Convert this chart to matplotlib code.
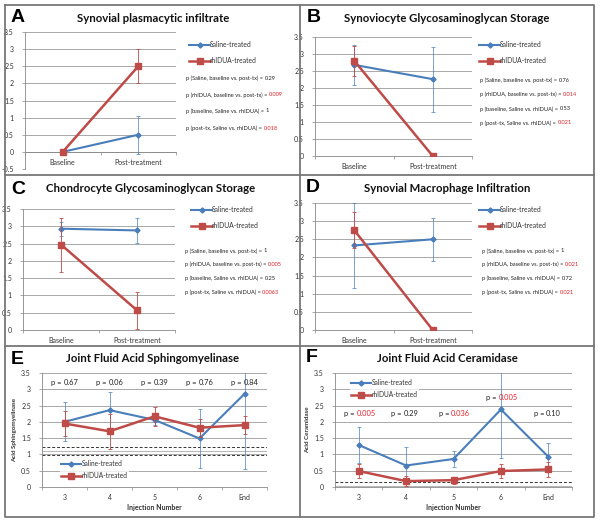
import numpy as np
import matplotlib
matplotlib.use('Agg')
import matplotlib.pyplot as plt
from matplotlib.lines import Line2D
from matplotlib.text import Annotation

plt.rcParams['font.family'] = ['Lato', 'DejaVu Sans']

W, H = 600, 523
blue = '#4a7ebb'
red = '#be4b48'

groups = ['Baseline', 'Post-treatment']
injections = ['3', '4', '5', '6', 'End']

# A - synovial plasmacytic infiltrate
a_saline = [0, 0.5]
a_saline_err = [0, 0.56]
a_rhidua = [0, 2.5]
a_rhidua_err = [0, 0.5]
a_p = [('0.29', False), ('0.009', True), ('1', False), ('0.018', True)]

# B - synoviocyte GAG storage
b_saline = [2.68, 2.26]
b_saline_err = [0.58, 0.96]
b_rhidua = [2.8, 0]
b_rhidua_err = [0.45, 0]
b_p = [('0.76', False), ('0.014', True), ('0.53', False), ('0.021', True)]

# C - chondrocyte GAG storage
c_saline = [2.93, 2.88]
c_saline_err = [0.2, 0.37]
c_rhidua = [2.47, 0.57]
c_rhidua_err = [0.78, 0.54]
c_p = [('1', False), ('0.005', True), ('0.25', False), ('0.0063', True)]

# D - synovial macrophage infiltration
d_saline = [2.33, 2.5]
d_saline_err = [1.16, 0.59]
d_rhidua = [2.75, 0]
d_rhidua_err = [0.5, 0]
d_p = [('1', False), ('0.021', True), ('0.72', False), ('0.021', True)]

# E - joint fluid acid sphingomyelinase
e_saline = [2.0, 2.36, 2.06, 1.49, 2.86]
e_saline_err = [0.6, 0.55, 0.15, 0.9, 2.32]
e_rhidua = [1.95, 1.71, 2.17, 1.82, 1.9]
e_rhidua_err = [0.37, 0.53, 0.3, 0.27, 0.27]
e_p = [('0.67', False), ('0.06', False), ('0.39', False), ('0.76', False), ('0.84', False)]
e_p_y = [3.2, 3.2, 3.2, 3.2, 3.2]
e_ref = [1.24, 0.97]
e_ref_gray = 1.11

# F - joint fluid acid ceramidase
f_saline = [1.29, 0.66, 0.86, 2.38, 0.93]
f_saline_err = [0.56, 0.58, 0.24, 1.5, 0.43]
f_rhidua = [0.49, 0.18, 0.21, 0.49, 0.54]
f_rhidua_err = [0.22, 0.15, 0.11, 0.21, 0.24]
f_p = [('0.005', True), ('0.29', False), ('0.036', True), ('0.005', True), ('0.10', False)]
f_p_y = [2.25, 2.25, 2.25, 2.75, 2.25]
f_ref = [0.15]
f_ref_gray = 0.03

fig = plt.figure(figsize=(6, 5.23), dpi=100)


def px_axes(x0, y0, x1, y1):
    return fig.add_axes([x0 / W, 1 - y1 / H, (x1 - x0) / W, (y1 - y0) / H])


def fx(x):
    return x / W


def fy(y):
    return 1 - y / H


def draw_panel(ax, cats, s, s_err, r, r_err, ylim, xaxis_at=None):
    n = len(cats)
    x = np.arange(n)
    ax.set_xlim(-0.5, n - 0.5)
    ax.set_ylim(*ylim)
    ax.errorbar(x, s, yerr=s_err, color=blue, lw=1.5, marker='D', ms=2.6,
                elinewidth=0.5, capsize=1.3, capthick=0.5, zorder=3)
    ax.errorbar(x, r, yerr=r_err, color=red, lw=1.8, marker='s', ms=4.5,
                elinewidth=0.6, capsize=1.3, capthick=0.6, zorder=4)
    ticks = np.arange(ylim[0], ylim[1] + 0.01, 0.5)
    ax.set_yticks(ticks)
    ax.set_yticklabels([f'{v:g}' for v in ticks])
    ax.yaxis.grid(True, color='#9a9a9a', lw=0.6)
    ax.set_axisbelow(True)
    ax.set_xticks(x)
    ax.set_xticklabels(cats)
    ax.set_xticks(np.arange(-0.5, n), minor=True)
    ax.tick_params(axis='x', which='major', length=0, labelsize=5, pad=5, labelcolor='#333')
    ax.tick_params(axis='x', which='minor', length=2, width=0.5, color='#888')
    ax.tick_params(axis='y', length=2, width=0.5, color='#888', labelsize=5, labelcolor='#333', pad=6)
    for sp in ['top', 'right']:
        ax.spines[sp].set_visible(False)
    for sp in ['left', 'bottom']:
        ax.spines[sp].set_color('#888')
        ax.spines[sp].set_linewidth(0.6)
    if xaxis_at is not None:
        ax.spines['bottom'].set_position(('data', xaxis_at))


def p_line(x, y, value, is_red, prefix, size=4.1):
    t = fig.text(fx(x), fy(y), prefix, fontsize=size, ha='left', va='center', color='#222')
    fig.add_artist(Annotation(value, xy=(1, 0.5), xycoords=t, va='center', ha='left',
                              fontsize=size, color='#e0202a' if is_red else '#222'))


def legend(x, y, size, spacing, frame=False):
    h = [Line2D([], [], color=blue, lw=1.5, marker='D', ms=2.6),
         Line2D([], [], color=red, lw=1.8, marker='s', ms=4.5)]
    lg = fig.legend(h, ['Saline-treated', 'rhIDUA-treated'], loc='upper left',
                    bbox_to_anchor=(fx(x), fy(y)), fontsize=size, handlelength=3.0,
                    handletextpad=0.0, labelspacing=spacing, borderpad=0.2,
                    frameon=frame, borderaxespad=0)
    if frame:
        lg.get_frame().set_facecolor('white')
        lg.get_frame().set_edgecolor('none')
        lg.get_frame().set_boxstyle('square', pad=0)
    for txt in lg.get_texts():
        txt.set_color('#333')


prefixes = ['p (Saline, baseline vs. post-tx) = ', 'p (rhIDUA, baseline vs. post-tx) = ',
            'p (baseline, Saline vs. rhIDUA) = ', 'p (post-tx, Saline vs. rhIDUA) = ']

# panel A
ax = px_axes(25, 32, 176, 169)
draw_panel(ax, groups, a_saline, a_saline_err, a_rhidua, a_rhidua_err, (-0.5, 3.5), xaxis_at=0)
legend(188, 40, 4.9, 1.3)
for (v, isr), pre, yy in zip(a_p, prefixes, [78, 95, 111, 128]):
    p_line(186, yy, v, isr, pre)

# panel B
ax = px_axes(315, 37, 472, 156)
draw_panel(ax, groups, b_saline, b_saline_err, b_rhidua, b_rhidua_err, (0, 3.5))
legend(478, 40, 4.9, 1.3)
for (v, isr), pre, yy in zip(b_p, prefixes, [80, 94, 109, 123]):
    p_line(480, yy, v, isr, pre)

# panel C
ax = px_axes(23, 209, 175, 330)
draw_panel(ax, groups, c_saline, c_saline_err, c_rhidua, c_rhidua_err, (0, 3.5))
legend(190, 205, 4.9, 1.3)
for (v, isr), pre, yy in zip(c_p, prefixes, [251, 264, 278, 292]):
    p_line(185, yy, v, isr, pre)

# panel D
ax = px_axes(315, 203, 472, 330)
draw_panel(ax, groups, d_saline, d_saline_err, d_rhidua, d_rhidua_err, (0, 3.5))
legend(478, 205, 4.9, 1.3)
for (v, isr), pre, yy in zip(d_p, prefixes, [251, 264, 278, 292]):
    p_line(482, yy, v, isr, pre)

# panel E
ax = px_axes(42, 373, 267, 487)
draw_panel(ax, injections, e_saline, e_saline_err, e_rhidua, e_rhidua_err, (0, 3.5))
for yv in e_ref:
    ax.axhline(yv, color='#333', lw=0.7, ls=(0, (3, 2)), zorder=2)
ax.axhline(e_ref_gray, color='#aaa', lw=0.6, zorder=2)
ax.set_ylabel('Acid Sphingomyelinase', fontsize=4.5, fontweight='bold', color='#333', labelpad=3)
ax.set_xlabel('Injection Number', fontsize=5, fontweight='bold', color='#333', labelpad=2)
for i, ((v, isr), yv) in enumerate(zip(e_p, e_p_y)):
    t = ax.text(i - 0.02, yv, 'p = ', fontsize=5.4, ha='right', va='center', color='#222')
    ax.annotate(v, xy=(1, 0.5), xycoords=t, va='center', ha='left', fontsize=5.4,
                color='#e0202a' if isr else '#222')
legend(60, 459, 4.8, 0.7, frame=True)

# panel F
ax = px_axes(335, 373, 572, 487)
draw_panel(ax, injections, f_saline, f_saline_err, f_rhidua, f_rhidua_err, (0, 3.5))
for yv in f_ref:
    ax.axhline(yv, color='#333', lw=0.7, ls=(0, (3, 2)), zorder=2)
ax.axhline(f_ref_gray, color='#aaa', lw=0.6, zorder=2)
ax.set_ylabel('Acid Ceramidase', fontsize=4.5, fontweight='bold', color='#333', labelpad=3)
ax.set_xlabel('Injection Number', fontsize=5, fontweight='bold', color='#333', labelpad=2)
for i, ((v, isr), yv) in enumerate(zip(f_p, f_p_y)):
    t = ax.text(i - 0.05, yv, 'p = ', fontsize=5.4, ha='right', va='center', color='#222')
    ax.annotate(v, xy=(1, 0.5), xycoords=t, va='center', ha='left', fontsize=5.4,
                color='#e0202a' if isr else '#222')
legend(350, 378, 4.8, 0.7, frame=True)

# titles and panel letters
titles = [('A', 'Synovial plasmacytic infiltrate', 11, 153, 18),
          ('B', 'Synoviocyte Glycosaminoglycan Storage', 307, 447, 18),
          ('C', 'Chondrocyte Glycosaminoglycan Storage', 11, 151, 189),
          ('D', 'Synovial Macrophage Infiltration', 306, 447, 188),
          ('E', 'Joint Fluid Acid Sphingomyelinase', 11, 152, 359),
          ('F', 'Joint Fluid Acid Ceramidase', 306, 447, 358)]
for letter, title, lx, tx, ty in titles:
    fig.text(fx(lx), fy(ty), letter, fontsize=14, fontweight='bold', ha='left', va='center',
             family=['Liberation Sans', 'DejaVu Sans'])
    fig.text(fx(tx), fy(ty), title, fontsize=8.2, fontweight='bold', ha='center', va='center', color='#111')

# panel frames
frame_kw = dict(color='#777', lw=1.3, transform=fig.transFigure)
fig.add_artist(Line2D([fx(5), fx(594), fx(594), fx(5), fx(5)],
                      [fy(5), fy(5), fy(517), fy(517), fy(5)], **frame_kw))
fig.add_artist(Line2D([fx(300), fx(300)], [fy(5), fy(517)], **frame_kw))
fig.add_artist(Line2D([fx(5), fx(594)], [fy(175), fy(175)], **frame_kw))
fig.add_artist(Line2D([fx(5), fx(594)], [fy(346), fy(346)], **frame_kw))

fig.savefig('out.png', dpi=100)
